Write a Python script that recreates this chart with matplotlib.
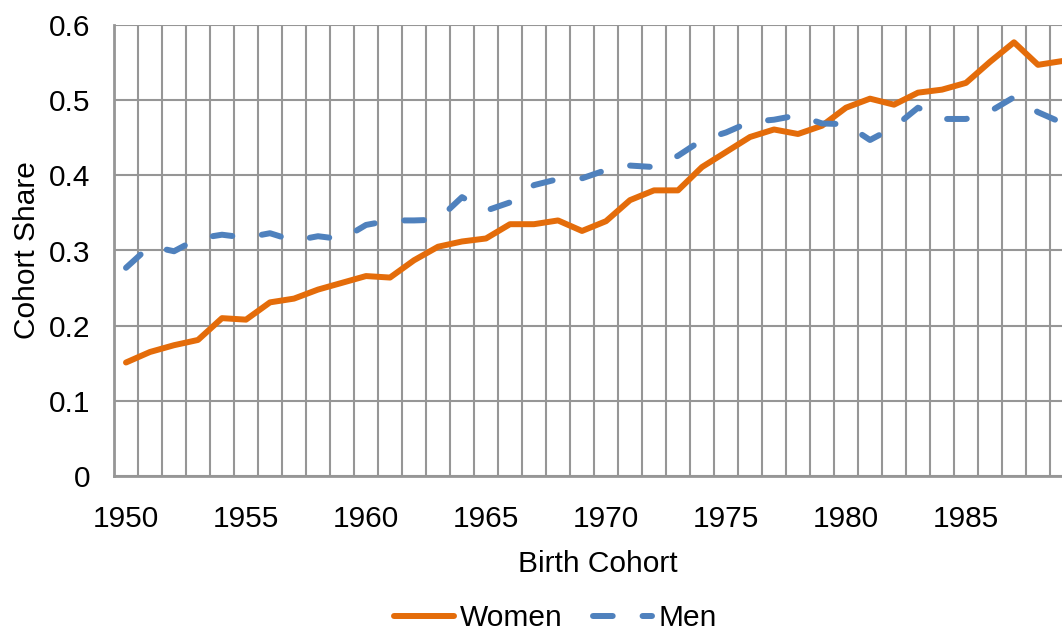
import numpy as np
import matplotlib.pyplot as plt
from matplotlib.ticker import FixedLocator

plt.rcParams['font.family'] = ['Liberation Sans', 'DejaVu Sans']

years = list(range(1950, 1990))

women = [0.151, 0.165, 0.174, 0.181, 0.210, 0.208, 0.231, 0.236, 0.248, 0.257,
         0.266, 0.264, 0.287, 0.305, 0.312, 0.316, 0.335, 0.335, 0.340, 0.326,
         0.339, 0.367, 0.380, 0.380, 0.411, 0.431, 0.451, 0.461, 0.455, 0.466,
         0.490, 0.502, 0.494, 0.510, 0.514, 0.523, 0.551, 0.577, 0.547, 0.552]

men = [0.277, 0.306, 0.299, 0.316, 0.321, 0.317, 0.323, 0.313, 0.319, 0.315,
       0.334, 0.340, 0.340, 0.341, 0.371, 0.353, 0.364, 0.387, 0.395, 0.396,
       0.407, 0.413, 0.411, 0.426, 0.447, 0.457, 0.471, 0.474, 0.480, 0.469,
       0.468, 0.447, 0.464, 0.490, 0.475, 0.475, 0.485, 0.504, 0.484, 0.470]

y_ticks = [0, 0.1, 0.2, 0.3, 0.4, 0.5, 0.6]
y_labels = ["0", "0.1", "0.2", "0.3", "0.4", "0.5", "0.6"]
x_ticks = [1950, 1955, 1960, 1965, 1970, 1975, 1980, 1985]

ORANGE = "#E46C0A"
BLUE = "#4F81BD"
GRID = "#969696"
FS = 21.5

fig = plt.figure(figsize=(10.62, 6.35), dpi=100)
ax = fig.add_axes([114 / 1062, 1 - 476 / 635, 1 - 114 / 1062, (476 - 25) / 635])

ax.plot(years, women, color=ORANGE, lw=4.3, solid_capstyle="round", solid_joinstyle="round", label="Women", zorder=3)
ax.plot(years, men, color=BLUE, lw=4.3, dashes=(3.3, 5.0), dash_capstyle="round", dash_joinstyle="round", label="Men", zorder=3)

ax.set_xlim(1949.5, 1989.0)
ax.set_ylim(0, 0.6)

ax.xaxis.set_major_locator(FixedLocator(x_ticks))
ax.xaxis.set_minor_locator(FixedLocator([y - 0.5 for y in years]))
ax.yaxis.set_major_locator(FixedLocator(y_ticks))
ax.set_yticklabels(y_labels)

ax.grid(True, which="minor", axis="x", color=GRID, lw=1.5)
ax.grid(True, which="major", axis="y", color=GRID, lw=1.5)
ax.tick_params(axis="both", which="both", length=0, labelsize=FS)
ax.tick_params(axis="x", pad=21)
ax.tick_params(axis="y", pad=17)

for side in ["top", "right"]:
    ax.spines[side].set_visible(False)
for side in ["left", "bottom"]:
    ax.spines[side].set_color(GRID)
    ax.spines[side].set_linewidth(2)

ax.set_xlabel("Birth Cohort", fontsize=FS)
ax.set_ylabel("Cohort Share", fontsize=FS, labelpad=6)
ax.xaxis.set_label_coords(0.51, -0.163)

fig.legend(loc="lower center", bbox_to_anchor=(0.523, -0.038), ncol=2, frameon=False,
           fontsize=FS, handlelength=2.0, handletextpad=0.2, columnspacing=1.0)

fig.savefig("out.png", dpi=100)
